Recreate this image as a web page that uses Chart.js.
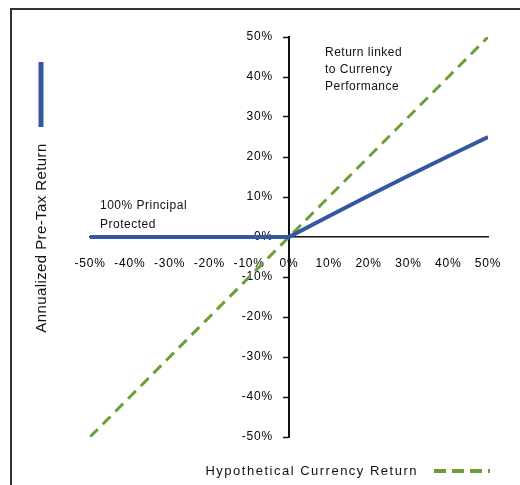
<!DOCTYPE html>
<html>
<head>
<meta charset="utf-8">
<script src="https://cdn.jsdelivr.net/npm/chart.js@4.4.1/dist/chart.umd.min.js"></script>
<style>
  html, body { margin: 0; padding: 0; background: #fff; }
  #wrap { width: 520px; height: 485px; position: relative; }
</style>
</head>
<body>
<div id="wrap"><canvas id="c" width="520" height="485"></canvas></div>
<script>
// ---- data ----
const currencyMoves = [-50, -40, -30, -20, -10, 0, 10, 20, 30, 40, 50];
const noteReturn    = [0, 0, 0, 0, 0, 0, 5.2, 10.3, 15.3, 20.2, 25];
const currencyReturn = [-50, -40, -30, -20, -10, 0, 10, 20, 30, 40, 50];
const tickValues = [-50, -40, -30, -20, -10, 0, 10, 20, 30, 40, 50];
const seriesNames = ['Annualized Pre-Tax Return', 'Hypothetical Currency Return'];
const noteLinked = ['Return linked', 'to Currency', 'Performance'];
const notePrincipal = ['100% Principal', 'Protected'];

const BLUE = '#3456a3';
const GREEN = '#6a9f3a';
const FONT = '"Liberation Sans", Arial, sans-serif';

const toPts = (xs, ys) => xs.map((x, i) => ({ x: x, y: ys[i] }));

// shift tick labels of the crossing axes off the axis lines
function offsetLabels(scale, dx, dy) {
  const items = scale.getLabelItems(scale.chart.chartArea);
  if (items._shifted) return;
  items.forEach(it => {
    it.options.translation = [it.options.translation[0] + dx, it.options.translation[1] + dy];
  });
  items._shifted = true;
}

const decor = {
  id: 'decor',
  beforeDraw(chart) {
    chart.ctx.letterSpacing = '0.8px';
    offsetLabels(chart.scales.y, -16, 0);
    offsetLabels(chart.scales.x, 0, 19);
  },
  afterDraw(chart) {
    const ctx = chart.ctx;
    ctx.save();
    // frame
    ctx.strokeStyle = '#333';
    ctx.lineWidth = 2;
    ctx.beginPath();
    ctx.moveTo(11, 485);
    ctx.lineTo(11, 9);
    ctx.lineTo(520, 9);
    ctx.stroke();

    // left legend symbol + rotated title
    const ds0 = chart.data.datasets[0];
    ctx.strokeStyle = ds0.borderColor;
    ctx.lineWidth = 5;
    ctx.beginPath();
    ctx.moveTo(41, 62);
    ctx.lineTo(41, 127);
    ctx.stroke();

    ctx.save();
    ctx.translate(42, 238);
    ctx.rotate(-Math.PI / 2);
    ctx.letterSpacing = '0.4px';
    ctx.fillStyle = '#111';
    ctx.font = '15px ' + FONT;
    ctx.textAlign = 'center';
    ctx.textBaseline = 'middle';
    ctx.fillText(ds0.label, 0, 0);
    ctx.restore();

    // bottom legend
    const ds1 = chart.data.datasets[1];
    ctx.letterSpacing = '1.5px';
    ctx.fillStyle = '#111';
    ctx.font = '13px ' + FONT;
    ctx.textAlign = 'right';
    ctx.textBaseline = 'middle';
    ctx.fillText(ds1.label, 418, 471);
    ctx.strokeStyle = ds1.borderColor;
    ctx.lineWidth = 4;
    ctx.setLineDash([12, 6]);
    ctx.beginPath();
    ctx.moveTo(434, 471);
    ctx.lineTo(490, 471);
    ctx.stroke();
    ctx.setLineDash([]);

    // annotations
    ctx.letterSpacing = '0.5px';
    ctx.font = '12px ' + FONT;
    ctx.textAlign = 'left';
    ctx.fillStyle = '#111';
    noteLinked.forEach((t, i) => ctx.fillText(t, 325, 53 + i * 17));
    notePrincipal.forEach((t, i) => ctx.fillText(t, 100, 206 + i * 19));
    ctx.restore();
  }
};

new Chart(document.getElementById('c'), {
  type: 'scatter',
  data: {
    datasets: [
      {
        label: seriesNames[0],
        data: toPts(currencyMoves, noteReturn),
        showLine: true,
        borderColor: BLUE,
        backgroundColor: BLUE,
        borderWidth: 4,
        pointRadius: 0,
        tension: 0
      },
      {
        label: seriesNames[1],
        data: toPts(currencyMoves, currencyReturn),
        showLine: true,
        borderColor: GREEN,
        backgroundColor: GREEN,
        borderWidth: 3,
        borderDash: [11, 7],
        pointRadius: 0,
        tension: 0
      }
    ]
  },
  options: {
    responsive: false,
    animation: false,
    devicePixelRatio: 1,
    layout: { padding: { left: 90, right: 32, top: 37, bottom: 48 } },
    plugins: { legend: { display: false }, tooltip: { enabled: false } },
    scales: {
      x: {
        type: 'linear',
        min: -50, max: 50,
        position: { y: 0 },
        afterBuildTicks: (s) => { s.ticks = tickValues.map(v => ({ value: v })); },
        ticks: {
          autoSkip: false, maxRotation: 0,
          color: '#000',
          font: { family: FONT, size: 12 },
          padding: 0,
          callback: (v) => v + '%'
        },
        grid: { drawOnChartArea: false, drawTicks: false },
        border: { color: '#111', width: 1.5 }
      },
      y: {
        type: 'linear',
        min: -50, max: 50,
        position: { x: 0 },
        afterBuildTicks: (s) => { s.ticks = tickValues.map(v => ({ value: v })); },
        ticks: {
          autoSkip: false,
          color: '#000',
          font: { family: FONT, size: 12 },
          padding: 0,
          callback: (v) => v + '%'
        },
        grid: { drawOnChartArea: false, drawTicks: true, tickLength: 5, tickColor: '#111', tickWidth: 1.5 },
        border: { color: '#111', width: 2 }
      }
    }
  },
  plugins: [decor]
});
</script>
</body>
</html>
